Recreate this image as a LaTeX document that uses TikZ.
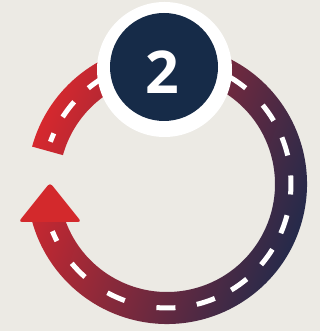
\documentclass[tikz,border=0pt]{standalone}
\usepackage{fontspec}
\newfontfamily\numfont{Open Sans}
\definecolor{bg}{RGB}{236,234,228}
\definecolor{ringred}{RGB}{214,40,46}
\definecolor{ringnavy}{RGB}{26,42,76}
\definecolor{arrowred}{RGB}{211,41,44}
\definecolor{navy}{RGB}{22,43,72}
\begin{document}
\begin{tikzpicture}[x=1pt,y=1pt,
  dashseg/.style={white, line width=5pt},
  badgering/.style={circle, fill=white, inner sep=0pt, minimum size=135pt},
  badgedisc/.style={circle, fill=navy, inner sep=0pt, minimum size=108pt},
  badgenum/.style={text=white, inner sep=0pt, font=\numfont\bfseries\fontsize{59}{59}\selectfont}]
\fill[bg] (0,0) rectangle (320,331);
\useasboundingbox (0,0) rectangle (320,331);
\coordinate (C) at (167,147);
% ring band
\shade[top color=ringred, bottom color=ringnavy, shading angle=70]
  (C) ++(164.5:140) arc[start angle=164.5, end angle=-167, radius=140]
  -- ([shift={(-167:108)}]C) arc[start angle=-167, end angle=164.5, radius=108] -- cycle;
% arrowhead
\fill[arrowred, rounded corners=3.5pt] (50,148.3) -- (81.5,109) -- (18.5,109) -- cycle;
% centre-line dashes
\foreach \a/\h in {158/2.1, 142.9/4.4, 125/4.4, 107/4.4, 90/4.4, 72/4.4, 55/4.4, 35.1/4.4, 17.7/4.4,
                   -0.45/4.4, -19/4.4, -36.2/4.4, -54.4/4.4, -71.7/4.4, -90.5/4.4,
                   -114.3/4.4, -135.8/4.4, -155.1/2.5}
  \draw[dashseg] ([shift={(\a+\h:124)}]C) arc[start angle=\a+\h, end angle=\a-\h, radius=124];
% badge
\node[badgering] (badge) at (164.5,261.5) {};
\node[badgedisc] (disc) at (164,264) {};
\node[badgenum] (num) at (162.8,259.3) {2};
\end{tikzpicture}
\end{document}
